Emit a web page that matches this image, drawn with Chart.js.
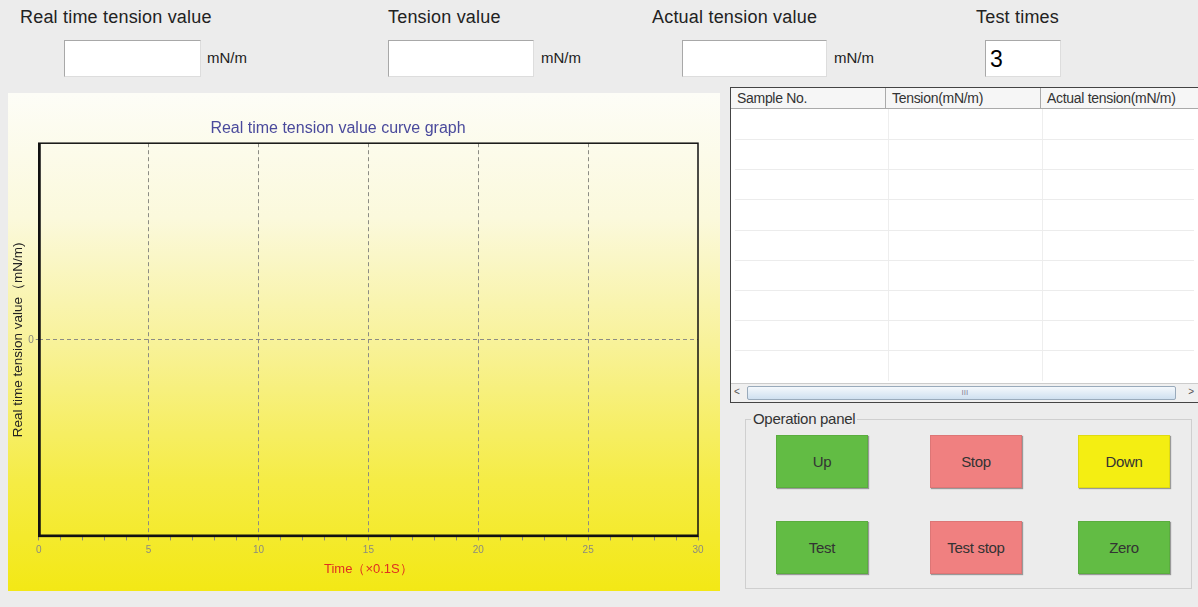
<!DOCTYPE html>
<html>
<head>
<meta charset="utf-8">
<script src="https://cdn.jsdelivr.net/npm/chart.js@4"></script>
<style>
  body { margin: 0; width: 1198px; height: 607px; background: #ececec; font-family: "Liberation Sans", Arial, sans-serif; position: relative; overflow: hidden; }
  .lbl { position: absolute; font-size: 18px; letter-spacing: 0.2px; color: #222; }
  .box { position: absolute; background: #fff; border: 1px solid #a8a8a8; border-right-color: #ddd; border-bottom-color: #ddd; box-sizing: border-box; }
  .unit { position: absolute; font-size: 15px; color: #222; }
  #panel { position: absolute; left: 8px; top: 93px; width: 712px; height: 498px;
    background: linear-gradient(to bottom, #fdfdf7 0%, #fbf9dc 25%, #f8f29a 50%, #f5ec45 78%, #f3e815 100%); }
  #table { position: absolute; left: 730px; top: 87px; width: 468px; height: 316px; background: #fff; border: 1px solid #444; border-right: none; box-sizing: border-box; }
  .th { position: absolute; top: 0; height: 21px; font-size: 14px; letter-spacing: -0.3px; color: #333; background: #f6f6f6; border-right: 1px solid #aaa; border-bottom: 1px solid #aaa; box-sizing: border-box; padding: 2px 0 0 6px; }
  .row { position: absolute; left: 4px; right: 4px; height: 1px; background: #ececec; }
  .col { position: absolute; top: 21px; width: 1px; height: 272px; background: #eeeeee; }
  #scroll { position: absolute; left: 0; right: 0; bottom: 0; height: 18px; background: #f0f0f0; border-top: 1px solid #ccc; }
  #thumb { position: absolute; left: 16px; right: 22px; top: 2px; bottom: 2px; background: linear-gradient(#f4f8fc, #cfe0f0); border: 1px solid #9ab; border-radius: 2px; }
  #group { position: absolute; left: 745px; top: 419px; width: 447px; height: 170px; border: 1px solid #cfcfcf; box-sizing: border-box; }
  #group span { position: absolute; left: 5px; top: -10px; background: #ececec; padding: 0 2px; font-size: 15px; letter-spacing: -0.3px; color: #333; }
  .btn { position: absolute; width: 92px; height: 53px; font-size: 15px; letter-spacing: -0.3px; color: #333; display: flex; align-items: center; justify-content: center; box-sizing: border-box; border: 1px solid rgba(0,0,0,0.08); box-shadow: 1px 1px 1px #999; }
  .g { background: #62bc44; }
  .r { background: #f08080; }
  .y { background: #f4ee12; }
</style>
</head>
<body>
<div class="lbl" style="left:20px; top:7px;">Real time tension value</div>
<div class="lbl" style="left:388px; top:7px;">Tension value</div>
<div class="lbl" style="left:652px; top:7px;">Actual tension value</div>
<div class="lbl" style="left:976px; top:7px;">Test times</div>

<div class="box" style="left:64px; top:40px; width:137px; height:37px;"></div>
<div class="unit" style="left:207px; top:49px;">mN/m</div>
<div class="box" style="left:388px; top:40px; width:146px; height:37px;"></div>
<div class="unit" style="left:541px; top:49px;">mN/m</div>
<div class="box" style="left:682px; top:40px; width:145px; height:37px;"></div>
<div class="unit" style="left:834px; top:49px;">mN/m</div>
<div class="box" style="left:985px; top:40px; width:76px; height:37px; font-size:23px; padding:5px 0 0 4px;">3</div>

<div id="panel"><canvas id="tensionChart" width="712" height="498"></canvas></div>

<div id="table">
  <div class="th" style="left:0; width:155px;">Sample No.</div>
  <div class="th" style="left:155px; width:155px;">Tension(mN/m)</div>
  <div class="th" style="left:310px; width:158px; border-right:none;">Actual tension(mN/m)</div>
  <div class="col" style="left:157px;"></div>
  <div class="col" style="left:311px;"></div>
  <div class="row" style="top:51px;"></div>
  <div class="row" style="top:81px;"></div>
  <div class="row" style="top:111px;"></div>
  <div class="row" style="top:142px;"></div>
  <div class="row" style="top:172px;"></div>
  <div class="row" style="top:202px;"></div>
  <div class="row" style="top:232px;"></div>
  <div class="row" style="top:262px;"></div>
  <div id="scroll"><div style="position:absolute;left:3px;top:2px;font-size:10px;color:#555;">&lt;</div><div id="thumb"><div style="position:absolute;left:50%;top:1px;font-size:8px;color:#889;">III</div></div><div style="position:absolute;right:4px;top:2px;font-size:10px;color:#555;">&gt;</div></div>
</div>

<div id="group"><span>Operation panel</span></div>
<div class="btn g" style="left:776px; top:435px;">Up</div>
<div class="btn r" style="left:930px; top:435px;">Stop</div>
<div class="btn y" style="left:1078px; top:435px;">Down</div>
<div class="btn g" style="left:776px; top:521px;">Test</div>
<div class="btn r" style="left:930px; top:521px;">Test stop</div>
<div class="btn g" style="left:1078px; top:521px;">Zero</div>

<script>
// Empty curve: no measurement yet
const timeValues = [];
const tensionValues = [];
const xTickLabels = [0, 5, 10, 15, 20, 25, 30];
const yTickLabels = [0];

const points = timeValues.map((t, i) => ({ x: t, y: tensionValues[i] }));

// frame around the plot area
const frameBox = {
    id: 'frameBox',
    afterDraw(chart) {
        const a = chart.chartArea;
        const ctx = chart.ctx;
        ctx.save();
        ctx.strokeStyle = '#111';
        ctx.lineWidth = 1.5;
        ctx.strokeRect(a.left, a.top, a.right - a.left, a.bottom - a.top);
        ctx.lineWidth = 2;
        ctx.beginPath();
        ctx.moveTo(a.left + 1, a.top);
        ctx.lineTo(a.left + 1, a.bottom - 1);
        ctx.lineTo(a.right, a.bottom - 1);
        ctx.stroke();
        ctx.restore();
    }
};

new Chart(document.getElementById('tensionChart').getContext('2d'), {
    type: 'line',
    data: {
        datasets: [{
            label: 'Real time tension value',
            data: points,
            borderColor: '#0000cc',
            borderWidth: 1,
            pointRadius: 0
        }]
    },
    options: {
        responsive: false,
        animation: false,
        layout: { padding: { left: 2, right: 22, bottom: 10 } },
        plugins: {
            legend: { display: false },
            tooltip: { enabled: false },
            title: {
                display: true,
                // trailing spaces keep the title a little left of centre, as in the original
                text: 'Real time tension value curve graph\u2003\u2003',
                color: '#4a4a9c',
                font: { family: 'Liberation Sans', size: 16, weight: 'normal' },
                padding: { top: 26, bottom: 5 }
            }
        },
        scales: {
            x: {
                type: 'linear',
                min: 0,
                max: 30,
                ticks: {
                    stepSize: 1,
                    autoSkip: false,
                    maxRotation: 0,
                    color: '#8a8a80',
                    font: { family: 'Liberation Sans', size: 10 },
                    padding: 4,
                    callback: v => xTickLabels.includes(v) ? String(v) : ''
                },
                grid: {
                    drawOnChartArea: true,
                    tickLength: 4,
                    tickColor: '#8a8a80',
                    color: ctx => (ctx.tick && ctx.tick.value % 5 === 0 && ctx.tick.value > 0 && ctx.tick.value < 30) ? '#8c8c84' : 'rgba(0,0,0,0)'
                },
                border: { display: false, dash: [4, 3] },
                title: {
                    display: true,
                    text: 'Time（×0.1S）',
                    color: '#e03020',
                    font: { family: 'Liberation Sans', size: 13 },
                    padding: { top: 1 }
                }
            },
            y: {
                min: -1,
                max: 1,
                afterBuildTicks: scale => { scale.ticks = yTickLabels.map(v => ({ value: v })); },
                ticks: {
                    color: '#8a8a80',
                    font: { family: 'Liberation Sans', size: 10 },
                    padding: 2
                },
                grid: {
                    color: '#8c8c84',
                    tickLength: 3,
                    tickColor: '#8c8c84'
                },
                border: { display: false, dash: [4, 3] },
                title: {
                    display: true,
                    text: 'Real time tension value（mN/m)',
                    color: '#222',
                    font: { family: 'Liberation Sans', size: 13.5 },
                    padding: { top: 0, bottom: 0 }
                }
            }
        }
    },
    plugins: [frameBox]
});
</script>
</body>
</html>
